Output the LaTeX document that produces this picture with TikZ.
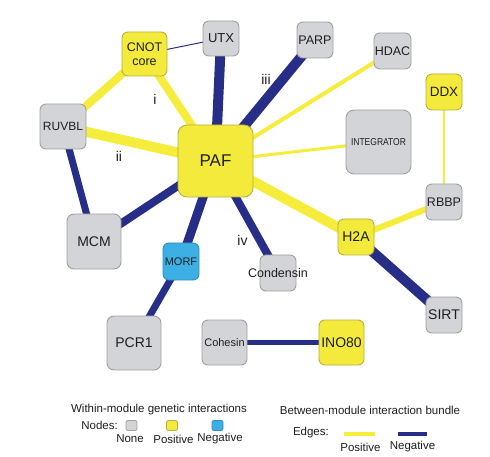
\documentclass[tikz,border=0pt]{standalone}
\usepackage{fontspec}
\usepackage{graphicx}
\setmainfont{Liberation Sans}
\usetikzlibrary{backgrounds}
\definecolor{nyel}{RGB}{243,234,60}
\definecolor{nyeld}{RGB}{185,176,62}
\definecolor{ngray}{RGB}{211,212,215}
\definecolor{ngrayd}{RGB}{160,160,162}
\definecolor{nblue}{RGB}{60,176,228}
\definecolor{nblued}{RGB}{46,140,190}
\definecolor{eyel}{RGB}{245,236,60}
\definecolor{enavy}{RGB}{38,46,136}
\definecolor{txt}{RGB}{30,30,30}
\tikzset{
  box/.style={rounded corners=6pt, line width=0.9pt, inner sep=0pt, align=center, text=txt},
  nonebox/.style={box, fill=ngray, draw=ngrayd},
  posbox/.style={box, fill=nyel, draw=nyeld},
  negbox/.style={box, fill=nblue, draw=nblued},
  sz/.style 2 args={minimum width=#1pt, minimum height=#2pt},
  fs/.style={font=\fontsize{#1}{#1}\selectfont},
  pe/.style={draw=eyel, line width=#1pt},
  ne/.style={draw=enavy, line width=#1pt},
  roman/.style={text=txt, font=\fontsize{14}{14}\selectfont},
  legtxt/.style={text=txt, font=\fontsize{11.5}{11.5}\selectfont, inner sep=0pt},
  swatch/.style={minimum width=11pt, minimum height=10pt, rounded corners=2pt, line width=0.8pt, inner sep=0pt}
}
\begin{document}
\begin{tikzpicture}[x=1pt,y=-1pt]
\useasboundingbox (0,0) rectangle (490,457);
% nodes
\node[posbox, sz={75}{72}, fs=17, rounded corners=9pt] (paf) at (215.5,161) {PAF};
\node[posbox, sz={45}{44}, font=\fontsize{12.5}{14}\selectfont] (cnot) at (144.5,54) {CNOT\\core};
\node[nonebox, sz={36}{35}, fs=13] (utx) at (221,38.5) {UTX};
\node[nonebox, sz={46}{45}, fs=12] (ruvbl) at (63,126.5) {RUVBL};
\node[nonebox, sz={36}{36}, fs=12.5] (parp) at (315,40) {PARP};
\node[nonebox, sz={37}{36}, fs=12.5] (hdac) at (392.5,51) {HDAC};
\node[posbox, sz={36}{36}, fs=13.5] (ddx) at (444,92) {DDX};
\node[nonebox, sz={65}{64}, fs=10, rounded corners=8pt] (integ) at (378.5,142) {\scalebox{0.85}[1]{INTEGRATOR}};
\node[nonebox, sz={36}{36}, fs=12.5] (rbbp) at (444,202) {RBBP};
\node[nonebox, sz={54}{55}, fs=14, rounded corners=7pt] (mcm) at (94,241.5) {MCM};
\node[negbox, sz={36}{37}, fs=11] (morf) at (181,261.5) {MORF};
\node[nonebox, sz={54}{54}, fs=14, rounded corners=7pt] (pcr) at (134,343) {PCR1};
\node[nonebox, sz={45}{45}, fs=11] (cohesin) at (224.5,342.5) {Cohesin};
\node[nonebox, sz={36}{36}, label={[text=txt, font=\fontsize{12.5}{12.5}\selectfont]center:Condensin}] (cond) at (278,273) {};
\node[posbox, sz={36}{36}, fs=14] (h2a) at (356,237) {H2A};
\node[nonebox, sz={36}{36}, fs=14] (sirt) at (444,315) {SIRT};
\node[posbox, sz={45}{45}, fs=14] (ino) at (341.5,342.5) {INO80};
% roman labels
\node[roman] (li) at (155,99) {i};
\node[roman] (lii) at (119,156) {ii};
\node[roman] (liii) at (266,79) {iii};
\node[roman] (liv) at (242.5,240) {iv};
% edges
\begin{scope}[on background layer]
\draw[ne=1] (cnot.center) -- (utx.center);
\draw[pe=8] (cnot.center) -- (ruvbl.center);
\draw[pe=8] (cnot.center) -- (paf.center);
\draw[pe=10] (ruvbl.center) -- (paf.center);
\draw[ne=7] (ruvbl.center) -- (mcm.center);
\draw[ne=10] (utx.center) -- (paf.center);
\draw[ne=10] (parp.center) -- (paf.center);
\draw[pe=4] (hdac.center) -- (paf.center);
\draw[pe=3] (integ.center) -- (paf.center);
\draw[pe=10] (paf.center) -- (h2a.center);
\draw[ne=8] (paf.center) -- (mcm.center);
\draw[ne=9] (paf.center) -- (morf.center);
\draw[ne=8] (paf.center) -- (cond.center);
\draw[ne=7] (morf.center) -- (pcr.center);
\draw[pe=6] (h2a.center) -- (rbbp.center);
\draw[ne=10] (h2a.center) -- (sirt.center);
\draw[pe=2] (ddx.center) -- (rbbp.center);
\draw[ne=5] (cohesin.center) -- (ino.center);
\end{scope}
% legend
\node[legtxt] (lw) at (159,410) {Within-module genetic interactions};
\node[legtxt, anchor=east] (ln) at (118,425) {Nodes:};
\node[swatch, fill=ngray, draw=ngrayd] (s1) at (131.5,425.5) {};
\node[swatch, fill=nyel, draw=nyeld] (s2) at (172,425.5) {};
\node[swatch, fill=nblue, draw=nblued] (s3) at (217.5,425.5) {};
\node[legtxt] (t1) at (130,439) {None};
\node[legtxt] (t2) at (173.5,439) {Positive};
\node[legtxt] (t3) at (220,439) {Negative};
\node[legtxt] (lb) at (370,410) {Between-module interaction bundle};
\node[legtxt, anchor=east] (le) at (329,433) {Edges:};
\coordinate (y1) at (344,433.5);
\coordinate (y2) at (375,433.5);
\coordinate (n1) at (398,433.5);
\coordinate (n2) at (427,433.5);
\draw[pe=4] (y1) -- (y2);
\draw[ne=4] (n1) -- (n2);
\node[legtxt] (t4) at (360.5,447) {Positive};
\node[legtxt] (t5) at (412.5,447) {Negative};
\end{tikzpicture}
\end{document}
